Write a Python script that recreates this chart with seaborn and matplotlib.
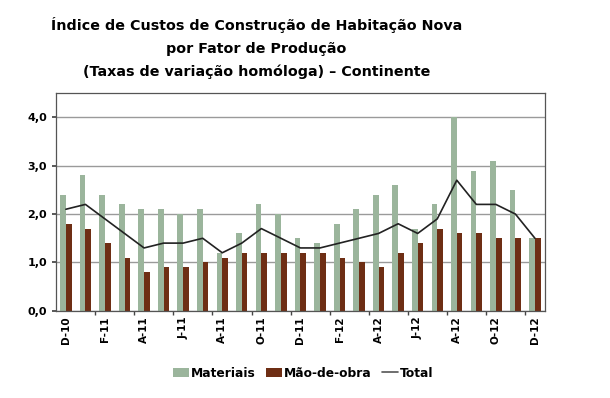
import numpy as np
import pandas as pd
import matplotlib
matplotlib.use("Agg")
import matplotlib.pyplot as plt
import seaborn as sns
from matplotlib.ticker import FixedLocator, FuncFormatter
from matplotlib.patches import Patch
from matplotlib.lines import Line2D

months = ["D-10", "J-11", "F-11", "M-11", "A-11", "M-11", "J-11", "J-11", "A-11", "S-11",
          "O-11", "N-11", "D-11", "J-12", "F-12", "M-12", "A-12", "M-12", "J-12", "J-12",
          "A-12", "S-12", "O-12", "N-12", "D-12"]
materiais = [2.4, 2.8, 2.4, 2.2, 2.1, 2.1, 2.0, 2.1, 1.2, 1.6, 2.2, 2.0, 1.5,
             1.4, 1.8, 2.1, 2.4, 2.6, 1.7, 2.2, 4.0, 2.9, 3.1, 2.5, 1.5]
mao_de_obra = [1.8, 1.7, 1.4, 1.1, 0.8, 0.9, 0.9, 1.0, 1.1, 1.2, 1.2, 1.2, 1.2,
               1.2, 1.1, 1.0, 0.9, 1.2, 1.4, 1.7, 1.6, 1.6, 1.5, 1.5, 1.5]
total = [2.1, 2.2, 1.9, 1.6, 1.3, 1.4, 1.4, 1.5, 1.2, 1.4, 1.7, 1.5, 1.3,
         1.3, 1.4, 1.5, 1.6, 1.8, 1.6, 1.9, 2.7, 2.2, 2.2, 2.0, 1.5]
series_names = ["Materiais", "Mão-de-obra", "Total"]
title = ("Índice de Custos de Construção de Habitação Nova\n"
         "por Fator de Produção\n"
         "(Taxas de variação homóloga) – Continente")

c_mat = "#9bb59c"
c_mao = "#6e2e14"

sns.set_theme(style="white")
plt.rcParams["font.family"] = ["DejaVu Sans"]
plt.rcParams["text.color"] = "black"
plt.rcParams["xtick.color"] = "black"
plt.rcParams["ytick.color"] = "black"

idx = list(range(len(months)))
df = pd.DataFrame({
    "pos": idx * 2,
    "valor": materiais + mao_de_obra,
    "serie": [series_names[0]] * len(months) + [series_names[1]] * len(months),
})

fig = plt.figure(figsize=(6.1, 3.98), dpi=100)
ax = fig.add_axes([0.092, 0.219, 0.801, 0.547])

sns.barplot(data=df, x="pos", y="valor", hue="serie",
            palette=[c_mat, c_mao], width=0.58, gap=0, linewidth=0,
            saturation=1, native_scale=False, legend=False, ax=ax)
sns.lineplot(x=np.array(idx), y=np.array(total), color="#222222",
             linewidth=1.2, ax=ax, legend=False)

ax.set_xlim(-0.5, len(months) - 0.5)
ax.set_ylim(0, 4.5)
ax.set_yticks([0, 1, 2, 3, 4])
ax.yaxis.set_major_formatter(FuncFormatter(lambda v, p: f"{v:.1f}".replace(".", ",")))
ax.grid(axis="y", color="#9a9a9a", linewidth=1.0)
ax.set_axisbelow(True)

ax.set_xticks(idx[::2])
ax.set_xticklabels(months[::2], rotation=90, fontsize=7.5, fontweight="bold")
ax.xaxis.set_minor_locator(FixedLocator([i + 1.5 for i in idx[::2][:-1]]))
ax.tick_params(axis="x", which="major", length=0, pad=4)
ax.tick_params(axis="x", which="minor", length=3, color="#444444", direction="out", bottom=True)
ax.tick_params(axis="y", length=3, color="#444444", direction="out", left=True, labelsize=8)
for lab in ax.get_yticklabels():
    lab.set_fontweight("bold")
ax.set_xlabel("")
ax.set_ylabel("")

for side in ["left", "right", "top", "bottom"]:
    ax.spines[side].set_visible(True)
    ax.spines[side].set_color("#555555")
    ax.spines[side].set_linewidth(0.9)

fig.text(0.42, 0.958, title, ha="center", va="top", fontsize=10.3, fontweight="bold",
         linespacing=1.8, color="black")

handles = [Patch(facecolor=c_mat, edgecolor="none"),
           Patch(facecolor=c_mao, edgecolor="none"),
           Line2D([0], [0], color="#555555", linewidth=1.2)]
fig.legend(handles, series_names, loc="center", bbox_to_anchor=(0.497, 0.062),
           ncol=3, frameon=False, prop={"weight": "bold", "size": 8.8},
           handlelength=1.3, handleheight=0.8, handletextpad=0.2, columnspacing=0.8)

fig.savefig("out.png", dpi=100)
